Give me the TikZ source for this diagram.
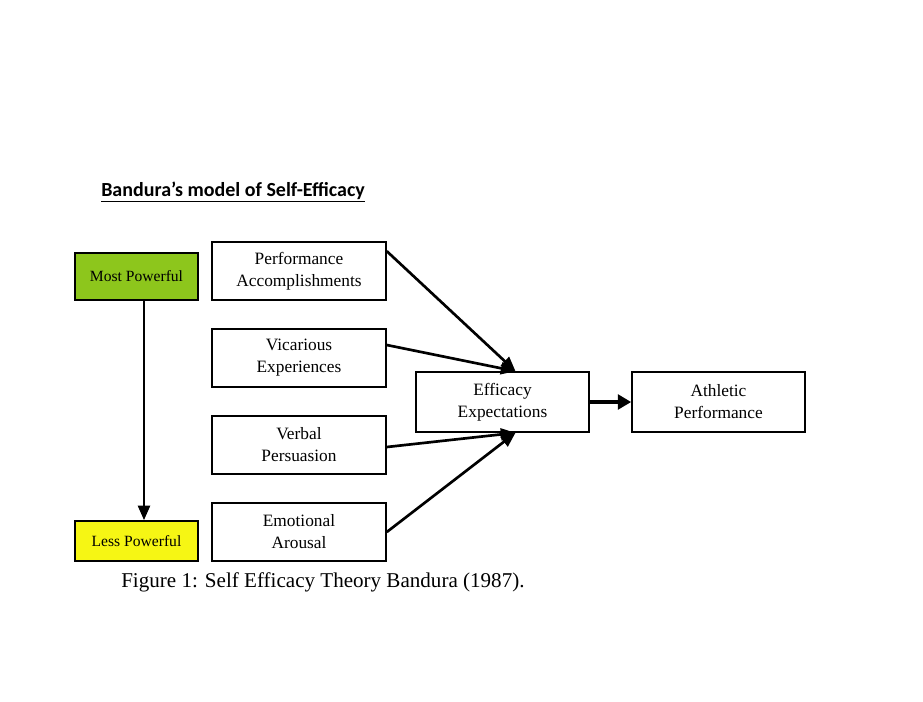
\documentclass[tikz,border=0pt]{standalone}
\usepackage{fontspec}
\setmainfont{Liberation Serif}
\newfontfamily\titlefont{Carlito}
\usetikzlibrary{arrows.meta,calc}
\definecolor{mpgreen}{RGB}{141,198,28}
\definecolor{lpyellow}{RGB}{246,246,20}
\tikzset{
  box/.style={draw=black, line width=1.2pt, fill=white, align=center, inner sep=0pt,
    font=\fontsize{13}{16.5}\selectfont, minimum width=130.5pt, minimum height=43.5pt},
  lvl/.style={draw=black, line width=1.2pt, align=center, inner sep=0pt,
    font=\fontsize{11.7}{13}\selectfont, minimum width=92.25pt},
  conn/.style={line width=2pt, -{Triangle[length=11pt,width=9pt]}},
  bigconn/.style={line width=3.5pt, -{Triangle[length=10pt,width=11pt]}}
}
\begin{document}
\begin{tikzpicture}[x=0.75pt,y=-0.75pt]
\useasboundingbox (0,0) rectangle (923,701);
\node[anchor=base west, inner sep=0pt, font=\titlefont\bfseries\fontsize{15}{17}\selectfont] (title) at (101,196) {\underline{Bandura’s model of Self-Efficacy}};
\node[lvl, fill=mpgreen, minimum height=35.25pt] (mp) at (136.5,276.5) {Most Powerful};
\node[lvl, fill=lpyellow, minimum height=30pt] (lp) at (136.5,541) {Less Powerful};
\node[box] (pa) at (299,271) {Performance\\Accomplishments};
\node[box] (va) at (299,358) {Vicarious\\Experiences};
\node[box] (vp) at (299,445) {Verbal\\Persuasion};
\node[box] (ea) at (299,532) {Emotional\\Arousal};
\node[box, minimum width=129.75pt, minimum height=45pt] (ee) at (502.5,402) {Efficacy\\Expectations};
\node[box, minimum width=129.75pt, minimum height=45pt] (ap) at (718.5,402) {Athletic\\Performance};
\node[anchor=base west, inner sep=0pt, font=\fontsize{15.8}{18}\selectfont] (cap) at (121,587) {Figure 1: Self Efficacy Theory Bandura (1987).};
\coordinate (vx) at (144,0);
\coordinate (eeT) at ($(ee.north)+(13,0)$);
\coordinate (eeB) at ($(ee.south)+(13,0)$);
\coordinate (paS) at ($(pa.north east)+(0,10)$);
\coordinate (vaS) at ($(va.east)+(0,-13)$);
\coordinate (vpS) at ($(vp.east)+(0,2)$);
\draw[conn] (mp.south -| vx) -- (lp.north -| vx);
\draw[conn] (paS) -- (eeT);
\draw[conn] (vaS) -- (eeT);
\draw[conn] (vpS) -- (eeB);
\draw[conn] (ea.east) -- (eeB);
\draw[bigconn] (ee.east) -- (ap.west);
\end{tikzpicture}
\end{document}
